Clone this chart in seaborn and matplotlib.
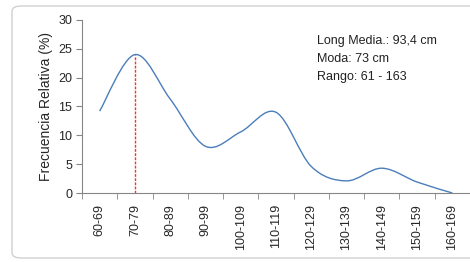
import matplotlib
matplotlib.use("Agg")
import matplotlib.pyplot as plt
import seaborn as sns
from matplotlib.path import Path
from matplotlib.patches import PathPatch, FancyBboxPatch

clases = ["60-69", "70-79", "80-89", "90-99", "100-109", "110-119",
          "120-129", "130-139", "140-149", "150-159", "160-169"]
frecuencia = [14.2, 24.0, 16.3, 8.1, 10.6, 14.0, 4.6, 2.1, 4.3, 1.9, 0.0]
moda_clase = "70-79"
notas = ["Long Media.: 93,4 cm", "Moda: 73 cm", "Rango: 61 - 163"]

sns.set_style("white")
plt.rcParams['font.family'] = ['Liberation Sans', 'DejaVu Sans']

fig = plt.figure(figsize=(4.7, 2.62), dpi=100)

# marco redondeado del gráfico (estilo Excel)
marco = FancyBboxPatch((12 / 470, 4 / 262), 470 / 470, 252 / 262,
                       boxstyle="round,pad=0,rounding_size=0.02",
                       transform=fig.transFigure, fill=False,
                       edgecolor="#d0d0d0", linewidth=1)
fig.patches.append(marco)

ax = fig.add_axes([82 / 470, 69 / 262, 388 / 470, 173 / 262])

# curva suavizada (Catmull-Rom -> Bezier) como en Excel
x = list(range(len(clases)))
pts = list(zip(x, frecuencia))
verts = [pts[0]]
codes = [Path.MOVETO]
for i in range(len(pts) - 1):
    p0 = pts[i - 1] if i > 0 else pts[i]
    p1 = pts[i]
    p2 = pts[i + 1]
    p3 = pts[i + 2] if i + 2 < len(pts) else pts[i + 1]
    c1 = (p1[0] + (p2[0] - p0[0]) / 6, p1[1] + (p2[1] - p0[1]) / 6)
    c2 = (p2[0] - (p3[0] - p1[0]) / 6, p2[1] - (p3[1] - p1[1]) / 6)
    verts += [c1, c2, p2]
    codes += [Path.CURVE4] * 3
ax.add_patch(PathPatch(Path(verts, codes), fill=False,
                       edgecolor="#4a7ebb", linewidth=1.0))

# línea de la moda
im = clases.index(moda_clase)
ax.vlines(im, 0, frecuencia[im], colors="#ff3030", linestyles=(0, (2, 1)),
          linewidth=1.0)

ax.set_xlim(-0.5, len(clases) - 0.5)
ax.set_ylim(0, 30)
ax.set_yticks(range(0, 31, 5))
ax.set_xticks(x)
ax.set_xticklabels(clases, rotation=90, fontsize=9)
ax.set_xticks([i - 0.5 for i in range(len(clases) + 1)], minor=True)
ax.tick_params(axis="x", which="major", length=0, pad=8)
ax.tick_params(axis="x", which="minor", length=4, color="#868686",
               direction="out", bottom=True)
ax.tick_params(axis="y", length=4, color="#868686", direction="out",
               left=True, labelsize=9, pad=3)
ax.set_ylabel("Frecuencia Relativa (%)", fontsize=10, labelpad=4)

for s in ["top", "right"]:
    ax.spines[s].set_visible(False)
for s in ["left", "bottom"]:
    ax.spines[s].set_color("#868686")
    ax.spines[s].set_linewidth(0.8)

for k, t in enumerate(notas):
    ax.text(0.605, 0.88 - k * 0.105, t, transform=ax.transAxes,
            fontsize=9, color="#222222", va="center")

fig.savefig("out.png", dpi=100)
